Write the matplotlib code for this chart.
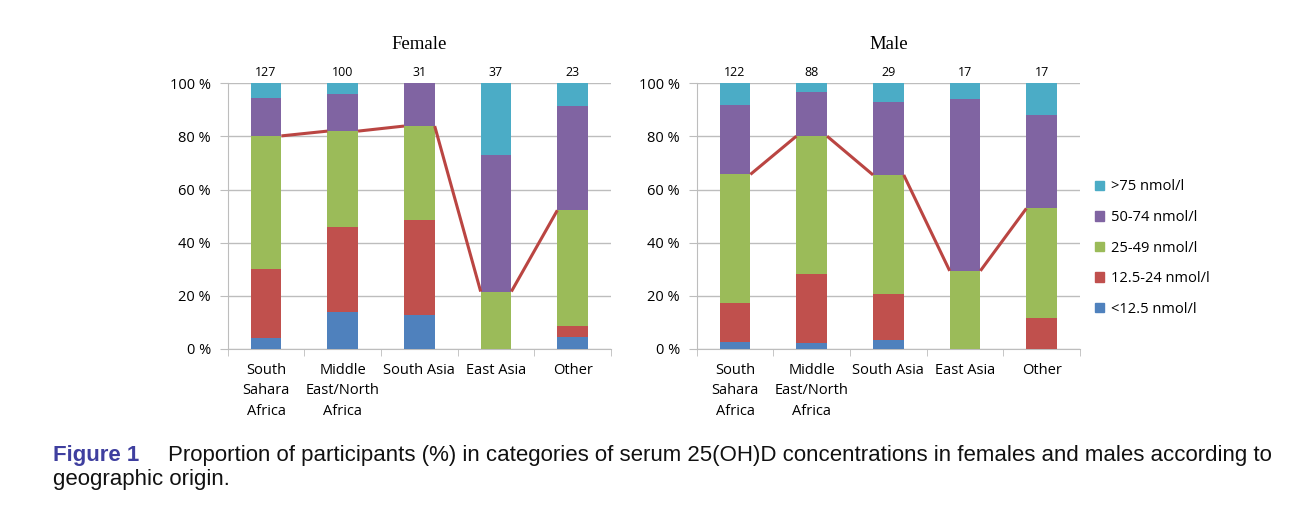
import matplotlib
matplotlib.use("Agg")
import matplotlib.pyplot as plt
import numpy as np
from matplotlib.patches import Patch

categories = ["South\nSahara\nAfrica", "Middle\nEast/North\nAfrica", "South Asia", "East Asia", "Other"]
legend_labels = [">75 nmol/l", "50-74 nmol/l", "25-49 nmol/l", "12.5-24 nmol/l", "<12.5 nmol/l"]

# percentages, bottom to top: <12.5, 12.5-24, 25-49, 50-74, >75
female_lt125 = [4.3, 14.0, 12.9, 0.0, 4.35]
female_125_24 = [25.8, 32.0, 35.5, 0.0, 4.35]
female_25_49 = [50.1, 36.0, 35.5, 21.6, 43.5]
female_50_74 = [14.2, 14.0, 16.1, 51.4, 39.1]
female_gt75 = [5.6, 4.0, 0.0, 27.0, 8.7]
female_n = [127, 100, 31, 37, 23]

male_lt125 = [2.5, 2.3, 3.4, 0.0, 0.0]
male_125_24 = [14.8, 26.1, 17.3, 0.0, 11.8]
male_25_49 = [48.4, 51.7, 44.8, 29.4, 41.1]
male_50_74 = [26.2, 16.5, 27.6, 64.7, 35.3]
male_gt75 = [8.1, 3.4, 6.9, 5.9, 11.8]
male_n = [122, 88, 29, 17, 17]

colors = ["#4F81BD", "#C0504D", "#9BBB59", "#8064A2", "#4BACC6"]  # bottom->top
line_color = "#BA4542"
grid_color = "#BDBDBD"
tick_font = "Open Sans"

fig = plt.figure(figsize=(13.05, 5.17), dpi=100)

def draw(ax, series, counts, title):
    x = np.arange(len(categories))
    w = 0.4
    bottom = np.zeros(len(categories))
    for vals, c in zip(series, colors):
        vals = np.array(vals)
        ax.bar(x, vals, w, bottom=bottom, color=c, zorder=3, linewidth=0)
        bottom = bottom + vals
    cum = np.array(series[0]) + np.array(series[1]) + np.array(series[2])
    for i in range(len(x) - 1):
        ax.plot([x[i] + w / 2, x[i + 1] - w / 2], [cum[i], cum[i + 1]],
                color=line_color, lw=2.2, zorder=4, solid_capstyle="butt")
    ax.set_xlim(-0.5, len(x) - 0.5)
    ax.set_ylim(0, 100)
    ax.set_yticks(np.arange(0, 101, 20))
    ax.set_yticklabels([f"{v} %" for v in range(0, 101, 20)], fontsize=10.5, family=tick_font)
    ax.yaxis.grid(True, color=grid_color, lw=1, zorder=0)
    ax.set_axisbelow(True)
    ax.set_xticks(x)
    ax.set_xticklabels(categories, fontsize=10.5, family=tick_font, linespacing=1.5)
    ax.set_xticks(np.arange(-0.5, len(x), 1.0), minor=True)
    ax.tick_params(axis="x", which="major", length=0, pad=10)
    ax.tick_params(axis="x", which="minor", length=5, color=grid_color, direction="out")
    ax.tick_params(axis="y", length=6, color=grid_color, direction="out", pad=6)
    for s in ["top", "right"]:
        ax.spines[s].set_visible(False)
    for s in ["left", "bottom"]:
        ax.spines[s].set_color(grid_color)
    for xi, n in zip(x, counts):
        ax.annotate(str(n), (xi, 100), xytext=(0, 3), textcoords="offset points",
                    ha="center", va="bottom", fontsize=9, family=tick_font, annotation_clip=False)
    ax.set_title(title, family="Liberation Serif", fontsize=13.5, pad=25)

ax1 = fig.add_axes([0.1745, 0.3250, 0.2937, 0.5139])
draw(ax1, [female_lt125, female_125_24, female_25_49, female_50_74, female_gt75], female_n, "Female")
ax2 = fig.add_axes([0.5339, 0.3250, 0.2937, 0.5139])
draw(ax2, [male_lt125, male_125_24, male_25_49, male_50_74, male_gt75], male_n, "Male")

# legend
handles = [Patch(color=c) for c in colors[::-1]]
fig.legend(handles, legend_labels, loc="center left", bbox_to_anchor=(0.829, 0.52),
           frameon=False, prop={"family": tick_font, "size": 10.5},
           handlelength=0.6, handleheight=0.6, labelspacing=1.07, handletextpad=0.5)

# caption
fig.text(0.0405, 0.108, "Figure 1", color="#3F3F9F", fontweight="bold",
         family="Liberation Sans", fontsize=16, va="baseline")
fig.text(0.1285, 0.108, "Proportion of participants (%) in categories of serum 25(OH)D concentrations in females and males according to",
         color="#111111", family="Liberation Sans", fontsize=16, va="baseline")
fig.text(0.0405, 0.062, "geographic origin.", color="#111111", family="Liberation Sans",
         fontsize=16, va="baseline")

fig.savefig("out.png", dpi=100)
